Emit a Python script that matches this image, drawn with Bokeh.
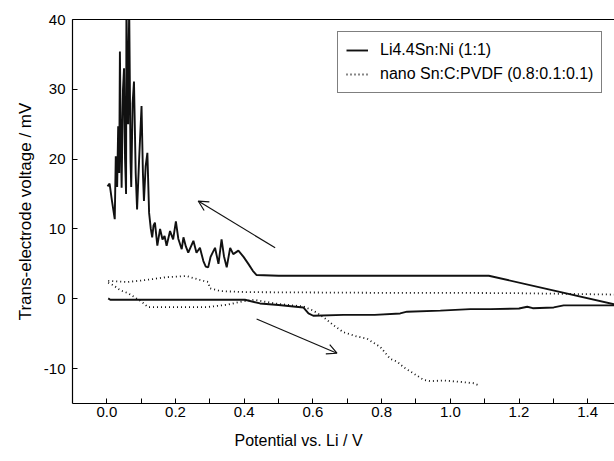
from bokeh.plotting import figure
from bokeh.models import (Range1d, FixedTicker, PrintfTickFormatter, Legend, LegendItem,
                          Arrow, OpenHead, Title, LinearAxis)
from bokeh.embed import file_html
from bokeh.resources import INLINE

# ---- data ----
li_up_x = [0.002, 0.008, 0.015, 0.023, 0.026, 0.030, 0.033, 0.036, 0.038, 0.041, 0.043, 0.047,
           0.050, 0.053, 0.056, 0.057, 0.062, 0.065, 0.069, 0.071, 0.075, 0.079, 0.084, 0.088,
           0.094, 0.101, 0.105, 0.108, 0.113, 0.118, 0.123, 0.128, 0.132, 0.136, 0.140, 0.147,
           0.155, 0.162, 0.168, 0.174, 0.184, 0.193, 0.201, 0.208, 0.218, 0.223, 0.230, 0.237,
           0.245, 0.252, 0.261, 0.271, 0.281, 0.288, 0.295, 0.302, 0.308, 0.315, 0.325, 0.334,
           0.341, 0.349, 0.359, 0.368, 0.383, 0.398, 0.412, 0.425, 0.436, 0.5, 0.6, 0.8, 1.0,
           1.112, 1.478]
li_up_y = [16.1, 16.5, 14.0, 11.4, 20.4, 16.0, 24.7, 18.0, 35.4, 22.0, 15.9, 30.0,
           33.0, 20.0, 15.0, 42.0, 25.0, 42.0, 19.7, 16.0, 28.0, 31.1, 18.0, 12.8,
           20.0, 27.6, 18.0, 14.0, 19.0, 20.9, 12.3, 10.0, 8.8, 10.5, 10.9, 7.6,
           10.0, 8.5, 9.0, 7.6, 9.7, 8.5, 11.1, 8.6, 7.1, 8.8, 7.5, 6.6,
           7.5, 8.3, 6.6, 7.3, 5.4, 4.6, 4.5, 6.0, 6.6, 7.3, 5.0, 8.5,
           6.1, 4.5, 7.3, 6.4, 6.9, 6.0, 5.0, 4.0, 3.4, 3.3, 3.3, 3.3, 3.3,
           3.3, -0.8]

li_dn_x = [0.004, 0.01, 0.1, 0.2, 0.3, 0.402, 0.446, 0.5, 0.572, 0.587, 0.601, 0.689, 0.78,
           0.854, 0.874, 0.971, 1.058, 1.117, 1.2, 1.224, 1.24, 1.301, 1.33, 1.478]
li_dn_y = [0.05, -0.14, -0.14, -0.14, -0.14, -0.14, -0.67, -0.9, -1.24, -2.1, -2.43, -2.3, -2.3,
           -2.1, -1.85, -1.7, -1.48, -1.48, -1.4, -1.14, -1.35, -1.24, -0.95, -0.95]

sn_up_x = [0.004, 0.024, 0.06, 0.116, 0.174, 0.232, 0.271, 0.295, 0.300, 0.33, 0.407, 0.6,
           0.8, 1.0, 1.2, 1.478]
sn_up_y = [2.57, 2.5, 2.4, 2.7, 3.1, 3.25, 2.7, 2.4, 1.5, 1.1, 0.95, 0.9,
           0.85, 0.85, 0.8, 0.6]

sn_dn_x = [0.004, 0.02, 0.04, 0.062, 0.101, 0.12, 0.2, 0.29, 0.349, 0.393, 0.427, 0.495,
           0.572, 0.601, 0.63, 0.66, 0.689, 0.728, 0.757, 0.796, 0.825, 0.845, 0.864, 0.893,
           0.922, 0.942, 0.98, 1.029, 1.068, 1.083]
sn_dn_y = [2.3, 1.9, 1.2, 0.8, -0.4, -1.2, -1.2, -1.2, -0.86, -0.4, -0.14, -0.71,
           -1.1, -1.7, -2.6, -3.8, -4.8, -5.4, -5.7, -6.9, -8.6, -9.0, -9.8, -10.7,
           -11.6, -11.8, -11.7, -11.9, -12.1, -12.4]

arrow_up = [0.49, 7.3, 0.266, 14.0]     # x_start, y_start, x_end, y_end
arrow_down = [0.436, -2.9, 0.67, -7.8]

x_major = [0.0, 0.2, 0.4, 0.6, 0.8, 1.0, 1.2, 1.4]
x_minor = [0.1, 0.3, 0.5, 0.7, 0.9, 1.1, 1.3]
y_major = [-10, 0, 10, 20, 30, 40]

label_1 = "Li4.4Sn:Ni (1:1)"
label_2 = "nano Sn:C:PVDF (0.8:0.1:0.1)"
x_title = "Potential vs. Li / V"
y_title = "Trans-electrode voltage / mV"

FONT = "Liberation Sans"

p = figure(width=614, height=461, output_backend="svg", toolbar_location=None,
           x_range=Range1d(-0.1, 1.478), y_range=Range1d(-15, 40))
p.min_border_left = 72
p.min_border_right = 0
p.min_border_top = 19
p.min_border_bottom = 58
p.outline_line_color = None
p.grid.visible = False
p.background_fill_color = "white"
p.border_fill_color = "white"

xa = p.xaxis[0]
xa.ticker = FixedTicker(ticks=x_major, minor_ticks=x_minor)
xa.formatter = PrintfTickFormatter(format="%.1f")
xa.major_tick_in = 5
xa.major_tick_out = 0
xa.minor_tick_in = 5
xa.minor_tick_out = 0
xa.major_label_standoff = 3
xa.major_label_text_font = FONT
xa.major_label_text_font_size = "15px"
xa.major_label_text_color = "black"
xa.axis_line_color = "black"
xa.axis_line_width = 1.2

ya = p.yaxis[0]
ya.ticker = FixedTicker(ticks=y_major, minor_ticks=[])
ya.formatter = PrintfTickFormatter(format="%d")
ya.major_tick_in = 5
ya.major_tick_out = 0
ya.minor_tick_in = 0
ya.minor_tick_out = 0
ya.major_label_standoff = 7
ya.major_label_text_font = FONT
ya.major_label_text_font_size = "15px"
ya.major_label_text_color = "black"
ya.axis_line_color = "black"
ya.axis_line_width = 1.2
ya.axis_label = y_title
ya.axis_label_text_font = FONT
ya.axis_label_text_font_size = "17px"
ya.axis_label_text_font_style = "normal"
ya.axis_label_text_color = "black"
ya.axis_label_standoff = 6

# top frame line (no ticks, no labels)
top = LinearAxis(ticker=FixedTicker(ticks=[], minor_ticks=[]),
                 major_tick_in=0, major_tick_out=0, minor_tick_in=0, minor_tick_out=0,
                 major_label_standoff=0, major_label_text_font_size="0px",
                 axis_line_color="black", axis_line_width=1.2)
p.add_layout(top, "above")

# x-axis title: the original frame runs past the window, so it sits left of centre
xt = Title(text=x_title, align="left", offset=162, text_font=FONT,
           text_font_size="16px", text_font_style="normal", text_color="black",
           standoff=20, vertical_align="bottom")
p.add_layout(xt, "below")

c = "#111111"
r1 = p.line(li_up_x, li_up_y, line_color=c, line_width=1.9)
p.line(li_dn_x, li_dn_y, line_color=c, line_width=1.9)
r2 = p.line(sn_up_x, sn_up_y, line_color=c, line_width=1.8, line_dash="1 3")
p.line(sn_dn_x, sn_dn_y, line_color=c, line_width=1.8, line_dash="1 3")

for a in (arrow_up, arrow_down):
    p.add_layout(Arrow(x_start=a[0], y_start=a[1], x_end=a[2], y_end=a[3],
                       line_color=c, line_width=1.2,
                       end=OpenHead(size=10, line_color=c, line_width=1.2)))

legend = Legend(items=[LegendItem(label=label_1, renderers=[r1]),
                       LegendItem(label=label_2, renderers=[r2])],
                location=(265, 310), padding=8, spacing=4, margin=0,
                glyph_width=22, glyph_height=20, label_height=20, label_standoff=12,
                label_text_font=FONT, label_text_font_size="16px",
                label_text_color="black",
                border_line_color="black", border_line_width=1.5,
                background_fill_alpha=1.0)
p.add_layout(legend, "center")

open("out.html", "w").write(file_html(p, INLINE))
